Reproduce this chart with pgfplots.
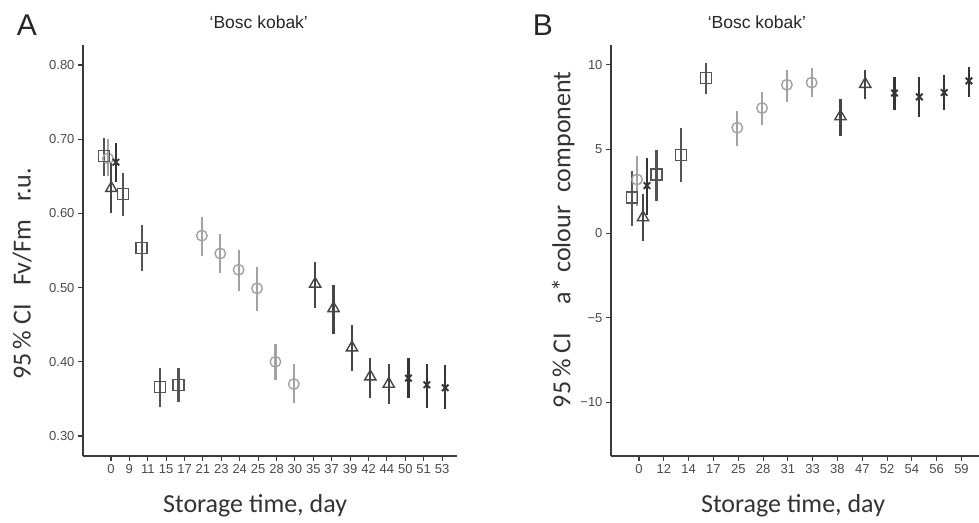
\documentclass[border=0pt]{standalone}
\usepackage{fontspec}
\setmainfont{Liberation Sans}
\newfontfamily\labfont{Carlito}
\usepackage{pgfplots}
\usepackage{pgfplotstable}
\pgfplotsset{compat=1.18}

\definecolor{axisgray}{HTML}{3A3A3A}
\definecolor{sqcol}{HTML}{555555}
\definecolor{circol}{HTML}{A2A2A2}
\definecolor{tricol}{HTML}{454545}
\definecolor{xcol}{HTML}{353535}
\definecolor{ticktext}{HTML}{4A4A4A}

% Panel A: Fv/Fm, x = category position (with dodge), ep/em = CI half widths
\pgfplotstableread{
x     y     ep    em
-0.38 0.677 0.024 0.026
0.67  0.626 0.028 0.030
1.67  0.553 0.031 0.031
2.67  0.366 0.026 0.027
3.67  0.369 0.022 0.023
}\fvsq
\pgfplotstableread{
x     y     ep    em
-0.16 0.674 0.026 0.024
4.94  0.570 0.025 0.027
5.94  0.546 0.026 0.027
6.94  0.524 0.026 0.028
7.94  0.499 0.029 0.030
8.94  0.400 0.024 0.024
9.94  0.370 0.027 0.025
}\fvci
\pgfplotstableread{
x     y     ep    em
0.02  0.634 0.035 0.033
11.10 0.505 0.030 0.032
12.10 0.472 0.031 0.034
13.10 0.419 0.030 0.031
14.10 0.380 0.025 0.029
15.10 0.370 0.027 0.027
}\fvtr
\pgfplotstableread{
x     y     ep    em
0.27  0.669 0.026 0.027
16.17 0.378 0.027 0.027
17.17 0.369 0.028 0.031
18.17 0.365 0.030 0.029
}\fvxx

% Panel B: a* colour component
\pgfplotstableread{
x     y    ep   em
-0.28 2.13 1.60 1.66
0.70  3.49 1.48 1.54
1.70  4.67 1.60 1.59
2.70  9.23 0.87 0.93
}\asq
\pgfplotstableread{
x     y    ep   em
-0.08 3.20 1.40 1.60
3.96  6.27 1.01 1.07
4.96  7.44 0.96 0.99
5.96  8.82 0.88 1.02
6.96  8.95 0.85 0.85
}\aci
\pgfplotstableread{
x     y    ep   em
0.16  0.95 1.42 1.42
8.12  6.94 1.06 1.14
9.12  8.86 0.84 0.86
}\atr
\pgfplotstableread{
x     y    ep   em
0.32  2.84 1.66 1.72
10.30 8.33 0.97 1.03
11.30 8.10 1.20 1.20
12.30 8.36 1.04 1.06
13.30 9.05 0.85 0.95
}\axx

\pgfplotsset{
  panel/.style={
    scale only axis, height=411pt,
    axis x line*=bottom, axis y line*=left,
    axis line style={axisgray, line width=1.3pt},
    tick style={axisgray, line width=1.1pt},
    tick align=outside, major tick length=5pt,
    tick label style={ticktext, font=\fontsize{13}{15}\selectfont},
    label style={color=black!80, font=\labfont\fontsize{26}{29}\selectfont},
    clip=false,
  },
  % error bars only (drawn first, so the hollow marks sit on top)
  cibar/.style={draw=none, mark=none, forget plot,
    error bars/y dir=both, error bars/y explicit, error bars/error mark=none,
    error bars/error bar style={draw=#1, line width=2.2pt, solid}},
  cimark/.style={only marks, line width=1.4pt, color=#1,
    mark options={fill=white, solid}},
}
% draw one series: bars, then marks
\newcommand{\ciseries}[3]{%
  \addplot[cibar=#1] table[y error plus=ep, y error minus=em] {#3};
  \addplot[cimark=#1, #2] table {#3};
}

\begin{document}
\begin{tikzpicture}
\useasboundingbox (0,0) rectangle (979pt,522pt);

\begin{axis}[panel, at={(83pt,66pt)}, anchor=south west, width=374pt,
  xmin=-1.52, xmax=18.81, ymin=0.273, ymax=0.827,
  xtick={0,...,18},
  xticklabels={0,9,11,15,17,21,23,24,25,28,30,35,37,39,42,44,50,51,53},
  ytick={0.3,0.4,0.5,0.6,0.7,0.8},
  yticklabels={0.30,0.40,0.50,0.60,0.70,0.80},
  xlabel={Storage time, day},
  xlabel style={at={(axis description cs:0.46,-0.122)}, anchor=center},
  ylabel={95\,\% CI\hspace{0.7em}Fv/Fm\hspace{0.7em}r.u.},
  ylabel style={at={(axis description cs:-0.163,0.443)}, anchor=center},
]
\ciseries{circol}{mark=o, mark size=5.3pt}{\fvci}
\ciseries{sqcol}{mark=square, mark size=5.5pt}{\fvsq}
\ciseries{tricol}{mark=triangle, mark size=6.5pt}{\fvtr}
\ciseries{xcol}{mark=x, mark size=4.6pt, line width=1.9pt}{\fvxx}
\node[font=\fontsize{17.5}{20}\selectfont, black!85] at (rel axis cs:0.47,1.056) {‘Bosc kobak’};
\node[font=\fontsize{30}{32}\selectfont, black!85] at (rel axis cs:-0.15,1.049) {A};
\end{axis}

\begin{axis}[panel, at={(611pt,66pt)}, anchor=south west, width=380pt,
  xmin=-1.13, xmax=14.19, ymin=-13.2, ymax=11.18,
  xtick={0,...,13},
  xticklabels={0,12,14,17,25,28,31,33,38,47,52,54,56,59},
  ytick={-10,-5,0,5,10},
  yticklabels={−10,−5,0,5,10},
  xlabel={Storage time, day},
  xlabel style={at={(axis description cs:0.479,-0.122)}, anchor=center},
  ylabel={95\,\% CI\hspace{1.1em}a* colour\hspace{0.5em}component},
  ylabel style={at={(axis description cs:-0.126,0.526)}, anchor=center},
]
\ciseries{circol}{mark=o, mark size=5.3pt}{\aci}
\ciseries{sqcol}{mark=square, mark size=5.5pt}{\asq}
\ciseries{tricol}{mark=triangle, mark size=6.5pt}{\atr}
\ciseries{xcol}{mark=x, mark size=4.6pt, line width=1.9pt}{\axx}
\node[font=\fontsize{17.5}{20}\selectfont, black!85] at (rel axis cs:0.384,1.056) {‘Bosc kobak’};
\node[font=\fontsize{30}{32}\selectfont, black!85] at (rel axis cs:-0.179,1.049) {B};
\end{axis}
\end{tikzpicture}
\end{document}
